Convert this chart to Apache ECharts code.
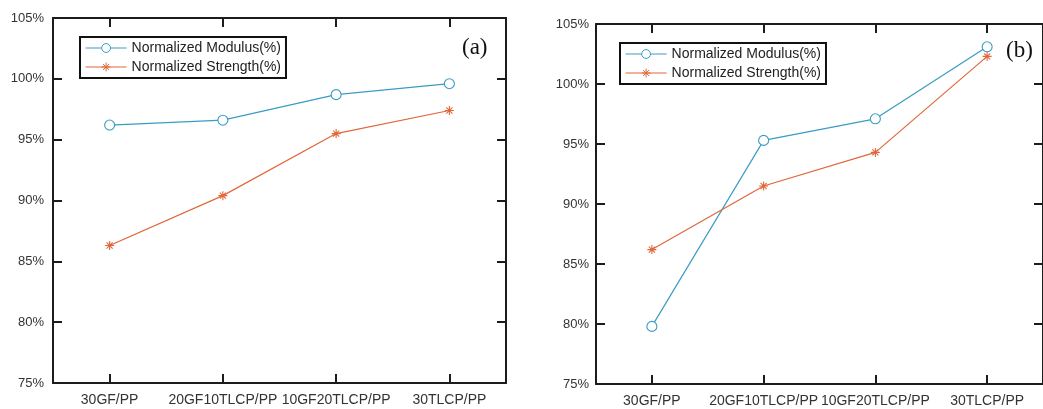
<!DOCTYPE html>
<html>
<head>
<meta charset="utf-8">
<script src="https://cdn.jsdelivr.net/npm/echarts@6/dist/echarts.min.js"></script>
<style>
html,body{margin:0;padding:0;background:#fff;}
#chart{width:1043px;height:409px;}
</style>
</head>
<body>
<div id="chart"></div>
<script>
const categories = ['30GF/PP', '20GF10TLCP/PP', '10GF20TLCP/PP', '30TLCP/PP'];
const modulusA = [96.2, 96.6, 98.7, 99.6];
const strengthA = [86.3, 90.4, 95.5, 97.4];
const modulusB = [79.8, 95.3, 97.1, 103.1];
const strengthB = [86.2, 91.5, 94.3, 102.3];
const seriesNames = ['Normalized Modulus(%)', 'Normalized Strength(%)'];
const panelLabels = ['(a)', '(b)'];

const blue = '#3a9cc4';
const orange = '#e2663a';
const axisColor = '#1c1c1c';
const asterisk = 'path://M5,0L5,10M0,5L10,5M1.6,1.6L8.4,8.4M1.6,8.4L8.4,1.6';

const chart = echarts.init(document.getElementById('chart'));

const grids = [
  {left: 53, top: 18, width: 453, height: 365},
  {left: 596, top: 24, width: 454, height: 360}
];

function xAxes(gi) {
  const base = {
    type: 'category', data: categories, gridIndex: gi, boundaryGap: true,
    axisLine: {show: true, lineStyle: {color: axisColor, width: 2}},
    axisTick: {show: true, inside: true, alignWithLabel: true, interval: 0, length: 9, lineStyle: {color: axisColor, width: 2}},
    splitLine: {show: false}
  };
  return [
    Object.assign({}, base, {position: 'bottom',
      axisLabel: {interval: 0, color: '#333', fontSize: 14, margin: 10, fontFamily: 'Liberation Sans, Arial, sans-serif'}}),
    Object.assign({}, base, {position: 'top', axisLabel: {show: false}})
  ];
}
function yAxes(gi, margin) {
  const base = {
    type: 'value', gridIndex: gi, min: 75, max: 105, interval: 5,
    axisLine: {show: true, lineStyle: {color: axisColor, width: 2}},
    axisTick: {show: true, inside: true, length: 9, lineStyle: {color: axisColor, width: 2}},
    splitLine: {show: false}
  };
  return [
    Object.assign({}, base, {position: 'left',
      axisLabel: {color: '#333', fontSize: 13, margin: margin, formatter: '{value}%', fontFamily: 'Liberation Sans, Arial, sans-serif'}}),
    Object.assign({}, base, {position: 'right', axisLabel: {show: false}})
  ];
}

function lineSeries(name, data, color, symbol, fill, xi, yi, size) {
  return {
    name: name, type: 'line', data: data, xAxisIndex: xi, yAxisIndex: yi,
    symbol: symbol, symbolSize: size, showSymbol: true,
    lineStyle: {color: color, width: 1.2},
    itemStyle: {color: fill, borderColor: color, borderWidth: 1.1},
    emphasis: {disabled: true}, animation: false
  };
}

const legendBase = {
  orient: 'vertical', align: 'left', itemWidth: 41, itemHeight: 11, itemGap: 5,
  padding: [4, 5, 4, 5], borderColor: '#111', borderWidth: 2, backgroundColor: '#fff',
  textStyle: {color: '#222', fontSize: 14, fontFamily: 'Liberation Sans, Arial, sans-serif'},
  itemStyle: {borderWidth: 1},
  lineStyle: {width: 1.2},
  data: seriesNames, selectedMode: false
};

chart.setOption({
  animation: false,
  backgroundColor: '#fff',
  grid: grids,
  xAxis: [...xAxes(0), ...xAxes(1)],
  yAxis: [...yAxes(0, 9), ...yAxes(1, 7)],
  legend: [
    Object.assign({}, legendBase, {left: 80, top: 37}),
    Object.assign({}, legendBase, {left: 620, top: 43})
  ],
  title: [
    {text: panelLabels[0], left: 462, top: 36, padding: 0,
     textStyle: {fontFamily: 'Liberation Serif, Times New Roman, serif', fontSize: 23, fontWeight: 'normal', color: '#111'}},
    {text: panelLabels[1], left: 1006, top: 39, padding: 0,
     textStyle: {fontFamily: 'Liberation Serif, Times New Roman, serif', fontSize: 23, fontWeight: 'normal', color: '#111'}}
  ],
  series: [
    lineSeries(seriesNames[0], modulusA, blue, 'circle', '#fff', 0, 0, 10),
    lineSeries(seriesNames[1], strengthA, orange, asterisk, orange, 0, 0, 9),
    lineSeries(seriesNames[0], modulusB, blue, 'circle', '#fff', 2, 2, 10),
    lineSeries(seriesNames[1], strengthB, orange, asterisk, orange, 2, 2, 9)
  ]
});
</script>
</body>
</html>
